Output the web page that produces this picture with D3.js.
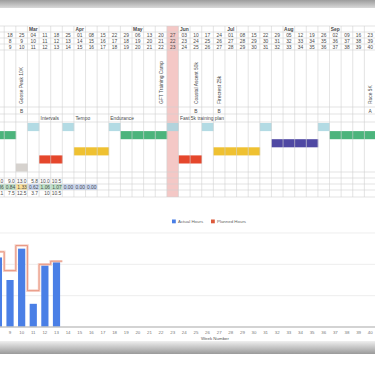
<!DOCTYPE html>
<html>
<head>
<meta charset="utf-8">
<script src="https://cdn.jsdelivr.net/npm/d3@7/dist/d3.min.js"></script>
<style>
  html, body { margin: 0; padding: 0; background: #fff; overflow: hidden; }
  svg { display: block; font-family: 'Liberation Sans', Arial, sans-serif; }
</style>
</head>
<body>
<div id="chart"></div>
<script>
// training plan sheet + weekly hours chart

const weeks = [8, 9, 10, 11, 12, 13, 14, 15, 16, 17, 18, 19, 20, 21, 22, 23, 24,
  25, 26, 27, 28, 29, 30, 31, 32, 33, 34, 35, 36, 37, 38, 39, 40];
const dayLabels = ['11', '18', '25', '04', '11', '18', '25', '01', '08', '15', '22',
  '29', '06', '13', '20', '27', '03', '10', '17', '24', '01', '08', '15', '22', '29',
  '05', '12', '19', '26', '02', '09', '16', '23'];
const monthWeeks  = [11, 15, 20, 24, 28, 33, 37];
const monthLabels = ['Mar', 'Apr', 'May', 'Jun', 'Jul', 'Aug', 'Sep'];

const raceWeeks    = [10, 22, 25, 27, 40];
const raceNames    = ['Goose Peak 10K', 'GFT Training Camp', 'Coastal Ascent 50k', 'Firecrest 25k', 'Race 5K'];
const racePriority = ['B', '', 'B', 'B', 'A'];

const phaseWeeks  = [12, 15, 18, 24];
const phaseLabels = ['Intervals', 'Tempo', 'Endurance', 'Fast 5k training plan'];

const recoveryWeeks  = [11, 14, 18, 23, 26, 31, 36];
const enduranceWeeks = [8, 9, 19, 20, 21, 22, 37, 38, 39, 40];
const thresholdWeeks = [32, 33, 34, 35];
const tempoWeeks     = [15, 16, 17, 27, 28, 29, 30];
const intervalWeeks  = [12, 13, 24, 25];
const restWeeks      = [10];
const currentWeek    = 23;

const hourWeeks    = [8, 9, 10, 11, 12, 13];
const plannedHours = [12.0, 9.0, 13.0, 5.8, 10.0, 10.5];
const actualHours  = [11.1, 7.5, 12.5, 3.7, 10, 10.5];
const ratioWeeks   = [8, 9, 10, 11, 12, 13, 14, 15, 16];
const ratioValues  = [0.86, 0.84, 1.33, 0.62, 1.06, 1.07, 0.00, 0.00, 0.00];

const yTicks = [5, 10, 15];

const W = 375, H = 366;
const C = {
  grid: '#d2d2d2', text: '#4a4a4a', axisText: '#777',
  current: '#f4c8c6', recovery: '#a6d5df', endurance: '#4cb47c',
  threshold: '#4f48a3', tempo: '#efc131', interval: '#e5472c', rest: '#d6d2ce',
  okCell: '#bde2c8', hiCell: '#fbe29a', loCell: '#c9d8f4',
  bar: '#4a7fe6', planned: '#e58a72'
};

const svg = d3.select('#chart').append('svg')
  .attr('width', W).attr('height', H);

const defs = svg.append('defs');
const topGrad = defs.append('linearGradient').attr('id', 'topGrad')
  .attr('x1', 0).attr('x2', 0).attr('y1', 0).attr('y2', 1);
topGrad.append('stop').attr('offset', '0%').attr('stop-color', '#9d9d9d');
topGrad.append('stop').attr('offset', '100%').attr('stop-color', '#d9d9d9');
const botGrad = defs.append('linearGradient').attr('id', 'botGrad')
  .attr('x1', 0).attr('x2', 0).attr('y1', 0).attr('y2', 1);
botGrad.append('stop').attr('offset', '0%').attr('stop-color', '#efefef');
botGrad.append('stop').attr('offset', '100%').attr('stop-color', '#9a9a9a');

svg.append('rect').attr('width', W).attr('height', H).attr('fill', '#fff');
svg.append('rect').attr('width', W).attr('height', 8).attr('fill', 'url(#topGrad)');
svg.append('rect').attr('y', 341).attr('width', W).attr('height', 13).attr('fill', 'url(#botGrad)');

const x = d3.scaleBand().domain(weeks).range([-7.4, 376]).padding(0);
const bw = x.bandwidth();
const cx = w => x(w) + bw / 2;
const shownWeeks = weeks.slice(1);

// ── sheet ───────────────────────────────────────────────────────────────────
const TOP = 26, BOTTOM = 197;
const hLines = [26, 32, 38, 44, 50, 107, 114, 122, 172, 178, 184, 190, 197];
const sheet = svg.append('g');

sheet.append('rect')
  .attr('x', x(currentWeek)).attr('y', TOP)
  .attr('width', bw).attr('height', BOTTOM - TOP)
  .attr('fill', C.current);

const blockRows = [
  { weeks: recoveryWeeks,  color: C.recovery },
  { weeks: enduranceWeeks, color: C.endurance },
  { weeks: thresholdWeeks, color: C.threshold },
  { weeks: tempoWeeks,     color: C.tempo },
  { weeks: intervalWeeks,  color: C.interval },
  { weeks: restWeeks,      color: C.rest },
];
blockRows.forEach((r, i) => {
  sheet.selectAll(null).data(r.weeks).join('rect')
    .attr('x', d => x(d)).attr('y', 123 + i * 8.1)
    .attr('width', bw + 0.3).attr('height', 8.1)
    .attr('fill', r.color)
    .attr('opacity', r.color === C.recovery ? 0.85 : 1);
});

const ratioColor = v => v > 1.2 ? C.hiCell : (v < 0.8 ? C.loCell : C.okCell);
sheet.selectAll(null).data(ratioWeeks).join('rect')
  .attr('x', d => x(d)).attr('y', 184)
  .attr('width', bw).attr('height', 6)
  .attr('fill', (d, i) => ratioColor(ratioValues[i]));

sheet.selectAll(null).data(weeks.concat([41])).join('line')
  .attr('x1', (d, i) => -7.4 + i * bw).attr('x2', (d, i) => -7.4 + i * bw)
  .attr('y1', TOP).attr('y2', BOTTOM)
  .attr('stroke', C.grid).attr('stroke-width', 0.6);
sheet.selectAll(null).data(hLines).join('line')
  .attr('x1', 0).attr('x2', W)
  .attr('y1', d => d).attr('y2', d => d)
  .attr('stroke', C.grid).attr('stroke-width', 0.6);

const txt = (sel) => sel.attr('font-size', 4.9).attr('fill', C.text);

sheet.selectAll(null).data(monthWeeks).join('text')
  .attr('x', d => cx(d)).attr('y', 30.8)
  .attr('text-anchor', 'middle').attr('font-weight', 'bold')
  .call(txt).text((d, i) => monthLabels[i]);

sheet.selectAll(null).data(shownWeeks).join('text')
  .attr('x', d => cx(d)).attr('y', 36.8)
  .attr('text-anchor', 'middle').call(txt)
  .text(d => dayLabels[weeks.indexOf(d)]);
sheet.selectAll(null).data(shownWeeks).join('text')
  .attr('x', d => cx(d)).attr('y', 42.8)
  .attr('text-anchor', 'middle').call(txt)
  .text(d => d - 1);
sheet.selectAll(null).data(shownWeeks).join('text')
  .attr('x', d => cx(d)).attr('y', 48.8)
  .attr('text-anchor', 'middle').call(txt)
  .text(d => d);

sheet.selectAll(null).data(raceWeeks).join('text')
  .attr('transform', d => `translate(${cx(d) + 1.8},104) rotate(-90)`)
  .call(txt).text((d, i) => raceNames[i]);
sheet.selectAll(null).data(raceWeeks).join('text')
  .attr('x', d => cx(d)).attr('y', 112.6)
  .attr('text-anchor', 'middle').call(txt)
  .text((d, i) => racePriority[i]);

sheet.selectAll(null).data(phaseWeeks).join('text')
  .attr('x', d => x(d) + 1.5).attr('y', 120.2)
  .call(txt).text((d, i) => phaseLabels[i]);

sheet.selectAll(null).data(hourWeeks).join('text')
  .attr('x', d => x(d) + bw - 1).attr('y', 182.6)
  .attr('text-anchor', 'end').call(txt)
  .text((d, i) => plannedHours[i].toFixed(1));
sheet.selectAll(null).data(ratioWeeks).join('text')
  .attr('x', d => x(d) + bw - 0.6).attr('y', 188.7)
  .attr('text-anchor', 'end').call(txt)
  .text((d, i) => ratioValues[i].toFixed(2));
sheet.selectAll(null).data(hourWeeks).join('text')
  .attr('x', d => x(d) + bw - 1).attr('y', 195)
  .attr('text-anchor', 'end').call(txt)
  .text((d, i) => String(actualHours[i]));

// ── hours chart ─────────────────────────────────────────────────────────────
const y = d3.scaleLinear().domain([0, 15]).range([327, 233]);
const chart = svg.append('g');

chart.selectAll(null).data(yTicks).join('line')
  .attr('x1', 0).attr('x2', W)
  .attr('y1', d => y(d)).attr('y2', d => y(d))
  .attr('stroke', '#e6e6e6').attr('stroke-width', 0.7);

chart.selectAll(null).data(hourWeeks).join('rect')
  .attr('x', d => cx(d) - bw * 0.31)
  .attr('width', bw * 0.62)
  .attr('y', (d, i) => y(actualHours[i]))
  .attr('height', (d, i) => y(0) - y(actualHours[i]))
  .attr('fill', C.bar);

const stepPts = hourWeeks.map((w, i) => [x(w), y(plannedHours[i])]);
stepPts.push([x(hourWeeks[hourWeeks.length - 1]) + bw, y(plannedHours[plannedHours.length - 1])]);
const stepLine = d3.line().curve(d3.curveStepAfter);
chart.append('path')
  .attr('d', stepLine(stepPts))
  .attr('fill', 'none').attr('stroke', '#f7d3c9')
  .attr('stroke-width', 2.6);
chart.append('path')
  .attr('d', stepLine(stepPts))
  .attr('fill', 'none').attr('stroke', C.planned)
  .attr('stroke-width', 1).attr('stroke-opacity', 0.8);

chart.append('line')
  .attr('x1', 0).attr('x2', W).attr('y1', y(0)).attr('y2', y(0))
  .attr('stroke', '#c4c4c4').attr('stroke-width', 1.4);

chart.selectAll(null).data(shownWeeks).join('text')
  .attr('x', d => cx(d)).attr('y', 334)
  .attr('text-anchor', 'middle').attr('font-size', 4.4)
  .attr('fill', C.axisText).text(d => d);

chart.append('text')
  .attr('x', 215).attr('y', 339.5)
  .attr('text-anchor', 'middle').attr('font-size', 4.4)
  .attr('fill', '#555').text('Week Number');

const legend = [
  { label: 'Actual Hours',  color: C.bar,      x: 172 },
  { label: 'Planned Hours', color: '#dc5a3c',  x: 211 },
];
legend.forEach(l => {
  chart.append('rect').attr('x', l.x).attr('y', 219.5)
    .attr('width', 3.8).attr('height', 3.8).attr('fill', l.color);
  chart.append('text').attr('x', l.x + 6).attr('y', 223.2)
    .attr('font-size', 4.4).attr('fill', '#666').text(l.label);
});
</script>
</body>
</html>
